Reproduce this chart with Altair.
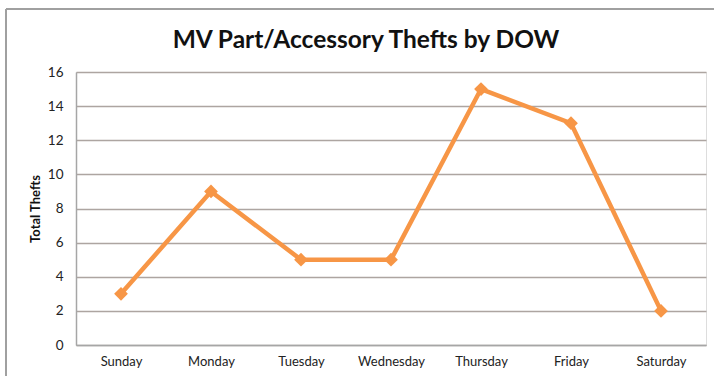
import altair as alt
import pandas as pd

days = ["Sunday", "Monday", "Tuesday", "Wednesday", "Thursday", "Friday", "Saturday"]
thefts = [3, 9, 5, 5, 15, 13, 2]
y_ticks = [0, 2, 4, 6, 8, 10, 12, 14, 16]

df = pd.DataFrame({"day": days, "thefts": thefts})

FONT = "Lato"

x_enc = alt.X("day:N", sort=days, title=None,
              scale=alt.Scale(paddingInner=0, paddingOuter=0.5),
              axis=alt.Axis(labelAngle=0, labelFont=FONT, labelFontSize=13,
                            labelColor="#222222", labelPadding=10, ticks=False,
                            domainColor="#A6A6A6", domainWidth=1.5, grid=False))
y_enc = alt.Y("thefts:Q", title="Total Thefts",
              scale=alt.Scale(domain=[0, 16], nice=False),
              axis=alt.Axis(values=y_ticks, labelFont=FONT, labelFontSize=13.5,
                            labelColor="#222222", labelPadding=13, ticks=False,
                            domainColor="#A6A6A6", domainWidth=1.5,
                            gridColor="#ADA5A1", gridWidth=1.5,
                            titleFont=FONT, titleFontSize=13, titleFontWeight="bold",
                            titleColor="#111111", titlePadding=5))

base = alt.Chart(df)
line = base.mark_line(color="#F79646", strokeWidth=4.5).encode(x=x_enc, y=y_enc)
pts = base.mark_point(shape="diamond", filled=True, color="#F79646", size=190, opacity=1).encode(x=x_enc, y=y_enc)

border_top = alt.Chart(df).mark_rule(color="#A0A0A0", strokeWidth=1.5).encode(
    x=alt.value(-70), x2=alt.value(700), y=alt.value(-63))
border_left = alt.Chart(df).mark_rule(color="#A0A0A0", strokeWidth=1.5).encode(
    x=alt.value(-70), y=alt.value(-63), y2=alt.value(310))

chart = alt.layer(border_top, border_left, line, pts).properties(
    width=630, height=273,
    autosize=alt.AutoSizeParams(type="none"),
    padding={"left": 76, "top": 72, "right": 8, "bottom": 31},
    title=alt.TitleParams("MV Part/Accessory Thefts by DOW", font=FONT, fontSize=24.5,
                          fontWeight="bold", color="#111111", anchor="middle",
                          dx=-25, offset=-45),
).configure_view(fill="#FCEDE8", stroke=None).configure(background="white")

chart.save("out.html", embed_options={"renderer": "svg", "actions": False})
